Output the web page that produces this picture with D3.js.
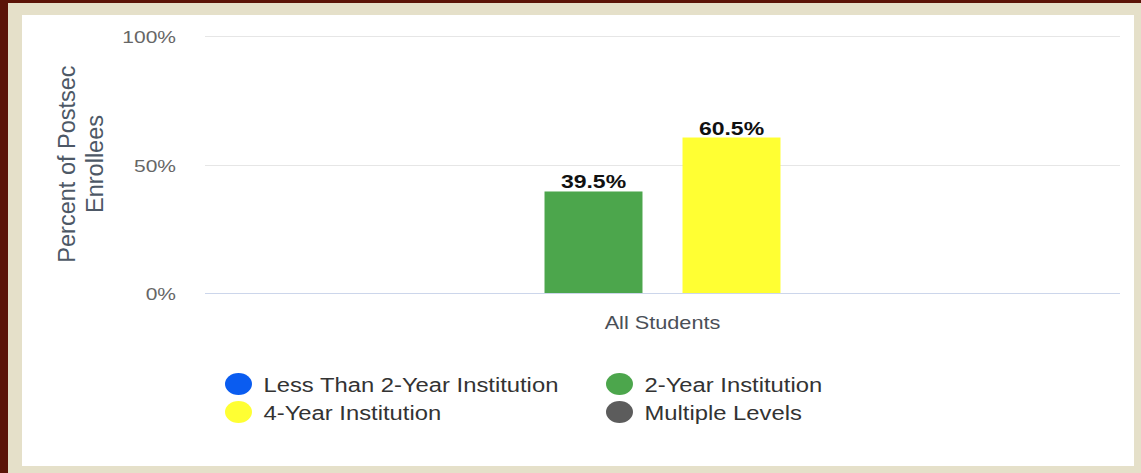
<!DOCTYPE html>
<meta charset="utf-8">
<style>
body { margin: 0; background: #5b1408; }
text { font-family: "Liberation Sans", Arial, sans-serif; }
.grid line { stroke: #e6e6e6; shape-rendering: crispEdges; }
.grid path { stroke-width: 0; }
</style>
<body>
<script src="https://d3js.org/d3.v7.min.js"></script>
<script>

// data
var categories = ["All Students"];
var seriesNames = ["Less Than 2-Year Institution", "2-Year Institution", "4-Year Institution", "Multiple Levels"];
var seriesColors = ["#0a5cf0", "#4ca64c", "#ffff33", "#5c5c5c"];
var seriesValues = [null, 39.5, 60.5, null];
var yTicks = [0, 50, 100];

var W = 1141, H = 473;
var plot = {left: 205, right: 1120, top: 36, bottom: 293};
var sy = 0.82; // the screenshot is squashed vertically

var svg = d3.select("body").append("svg")
    .attr("width", W)
    .attr("height", H)
    .style("display", "block");

// frame: maroon, beige, white panel
svg.append("rect").attr("width", W).attr("height", H).attr("fill", "#5b1408");
svg.append("rect").attr("x", 8).attr("y", 3).attr("width", W - 8).attr("height", H - 3).attr("fill", "#e5e0c9");
svg.append("rect").attr("x", 22).attr("y", 15).attr("width", 1112).attr("height", 451).attr("fill", "#ffffff");

var x0 = d3.scaleBand().domain(categories).range([plot.left, plot.right]);
// 4 slots of 138px centered on the category
var x1 = d3.scaleBand().domain(seriesNames)
    .range([x0.bandwidth() / 2 - 276, x0.bandwidth() / 2 + 276])
    .paddingInner(0.29).paddingOuter(0.145);
var y = d3.scaleLinear().domain([0, 100]).range([plot.bottom, plot.top]);

function squash(x, yy) { return "translate(" + x + "," + yy + ") scale(1," + sy + ")"; }

// gridlines
svg.append("g")
    .attr("class", "grid")
    .attr("transform", "translate(" + plot.left + ",0)")
    .call(d3.axisLeft(y).tickValues(yTicks).tickSize(-(plot.right - plot.left)).tickFormat(""));

// x axis line
svg.append("line")
    .attr("x1", plot.left).attr("x2", plot.right)
    .attr("y1", y(0) + 0.5).attr("y2", y(0) + 0.5)
    .attr("stroke", "#ccd6eb");

// y tick labels
svg.selectAll(".ytick")
    .data(yTicks)
    .enter().append("text")
    .attr("transform", function(d) { return squash(176, y(d) + 7); })
    .attr("text-anchor", "end")
    .style("font-size", "21px")
    .style("fill", "#666666")
    .text(function(d) { return d + "%"; });

// y axis title
var yt = svg.append("text")
    .attr("transform", "translate(75,164) rotate(-90)")
    .attr("text-anchor", "middle")
    .style("font-size", "23.5px")
    .style("fill", "#4d5866");
yt.append("tspan").attr("x", 0).attr("dy", 0).text("Percent of Postsec");
yt.append("tspan").attr("x", 0).attr("dy", 28).text("Enrollees");

// x category label
svg.selectAll(".xlab")
    .data(categories)
    .enter().append("text")
    .attr("transform", function(d) { return squash(x0(d) + x0.bandwidth() / 2, 329); })
    .attr("text-anchor", "middle")
    .style("font-size", "21.7px")
    .style("fill", "#4a4f57")
    .text(function(d) { return d; });

// bars
var barData = seriesNames.map(function(s, i) {
  return {name: s, value: seriesValues[i], color: seriesColors[i]};
}).filter(function(d) { return d.value != null; });

var g = svg.append("g").attr("transform", "translate(" + x0(categories[0]) + ",0)");

g.selectAll("rect")
    .data(barData)
    .enter().append("rect")
    .attr("x", function(d) { return x1(d.name); })
    .attr("y", function(d) { return y(d.value); })
    .attr("width", x1.bandwidth())
    .attr("height", function(d) { return y(0) - y(d.value); })
    .attr("fill", function(d) { return d.color; });

g.selectAll(".val")
    .data(barData)
    .enter().append("text")
    .attr("transform", function(d) { return squash(x1(d.name) + x1.bandwidth() / 2, y(d.value) - 3); })
    .attr("text-anchor", "middle")
    .style("font-size", "23px")
    .style("font-weight", "bold")
    .style("fill", "#111111")
    .style("stroke", "#ffffff")
    .style("stroke-width", "3px")
    .style("paint-order", "stroke")
    .text(function(d) { return d.value.toFixed(1) + "%"; });

// legend
var legPos = [[238.5, 384], [619.5, 384], [238.5, 412], [619.5, 412]];
var leg = svg.selectAll(".leg")
    .data(seriesNames)
    .enter().append("g")
    .attr("transform", function(d, i) { return "translate(" + legPos[i][0] + "," + legPos[i][1] + ")"; });

leg.append("ellipse")
    .attr("rx", 13.5)
    .attr("ry", 11)
    .attr("fill", function(d, i) { return seriesColors[i]; });

leg.append("text")
    .attr("transform", squash(25, 8))
    .style("font-size", "23.8px")
    .style("fill", "#333333")
    .text(function(d) { return d; });

</script>
</body>
